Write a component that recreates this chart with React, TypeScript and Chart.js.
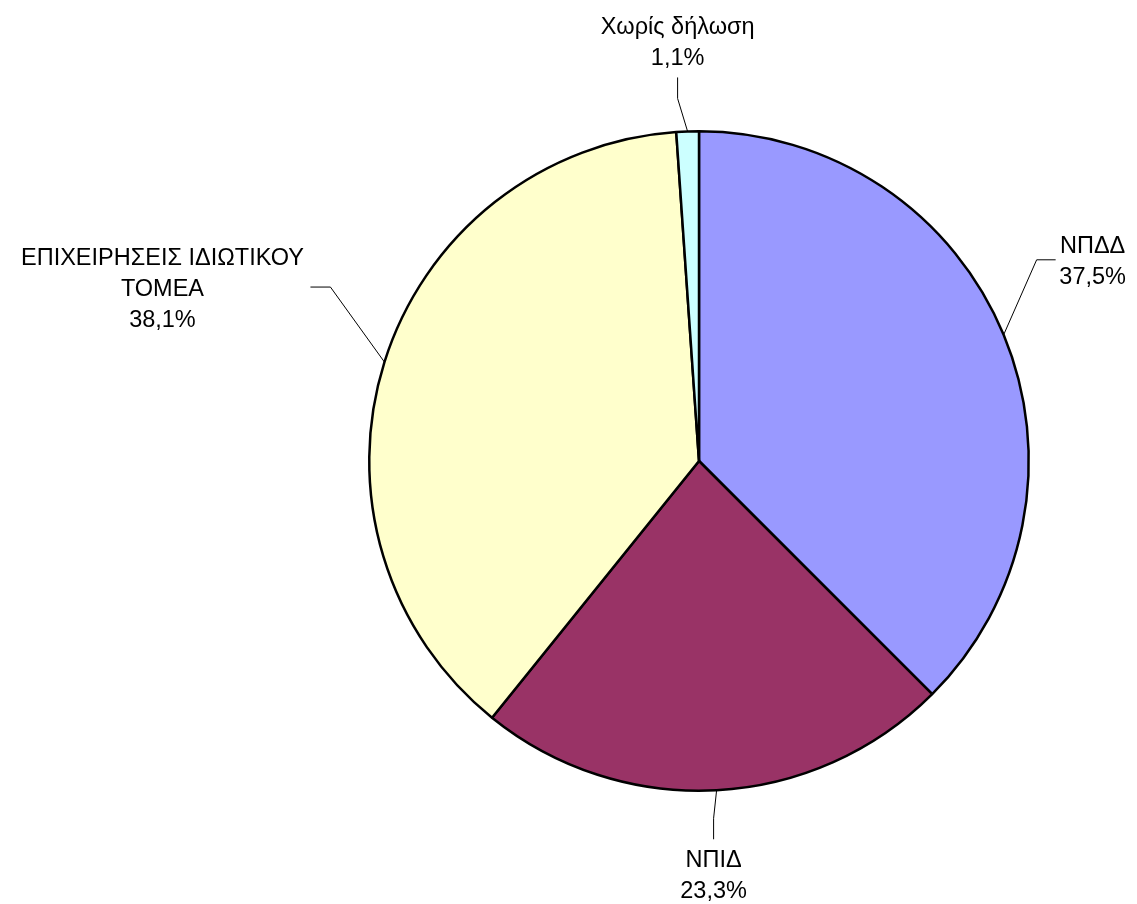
import React, { useEffect, useRef } from "react";
import { Chart, registerables } from "chart.js";

Chart.register(...registerables);

const categories: string[][] = [
  ["ΝΠΔΔ"],
  ["ΝΠΙΔ"],
  ["ΕΠΙΧΕΙΡΗΣΕΙΣ ΙΔΙΩΤΙΚΟΥ", "ΤΟΜΕΑ"],
  ["Χωρίς δήλωση"],
];
const values: number[] = [37.5, 23.3, 38.1, 1.1];
const percentLabels: string[] = ["37,5%", "23,3%", "38,1%", "1,1%"];
const colors: string[] = ["#9999FF", "#993366", "#FFFFCC", "#CCFFFF"];

// leader line geometry per slice: elbow offset from arc edge, tail vector, text offset from tail end
type LabelGeo = { elbow: [number, number]; tail: [number, number]; text: [number, number] };
const labelGeo: LabelGeo[] = [
  { elbow: [33, -75], tail: [19, 0], text: [37, 0] },
  { elbow: [-3, 28], tail: [0, 21], text: [0, 19] },
  { elbow: [-54, -75], tail: [-20, 0], text: [-148, 0] },
  { elbow: [-10, -33], tail: [0, -21], text: [0, -21] },
];

const FONT = '23.5px "Liberation Sans", Arial, Helvetica, sans-serif';
const LINE_H = 31;
const BASE_SHIFT = 2;

const labelPlugin = {
  id: "leaderLabels",
  afterDatasetsDraw(chart: any) {
    const ctx = chart.ctx as CanvasRenderingContext2D;
    const meta = chart.getDatasetMeta(0);
    ctx.save();
    meta.data.forEach((arc: any, i: number) => {
      const p = arc.getProps(["x", "y", "startAngle", "endAngle", "outerRadius"], true);
      const mid = (p.startAngle + p.endAngle) / 2;
      const ax = p.x + Math.cos(mid) * p.outerRadius;
      const ay = p.y + Math.sin(mid) * p.outerRadius;
      const g = labelGeo[i];
      const ex = ax + g.elbow[0];
      const ey = ay + g.elbow[1];
      const tx = ex + g.tail[0];
      const ty = ey + g.tail[1];
      ctx.strokeStyle = "#000";
      ctx.lineWidth = 1;
      ctx.beginPath();
      ctx.moveTo(ax, ay);
      ctx.lineTo(ex, ey);
      ctx.lineTo(tx, ty);
      ctx.stroke();

      const lines = [...categories[i], percentLabels[i]];
      const cx = tx + g.text[0];
      const cy = ty + g.text[1];
      let startY: number;
      if (g.tail[1] > 0) startY = cy;
      else if (g.tail[1] < 0) startY = cy - (lines.length - 1) * LINE_H;
      else startY = cy - ((lines.length - 1) * LINE_H) / 2;
      ctx.fillStyle = "#000";
      ctx.font = FONT;
      ctx.textAlign = "center";
      ctx.textBaseline = "middle";
      lines.forEach((t, k) => ctx.fillText(t, cx, startY + k * LINE_H + BASE_SHIFT));
    });
    ctx.restore();
  },
};

export default function App() {
  const ref = useRef<HTMLCanvasElement>(null);
  useEffect(() => {
    document.body.style.margin = "0";
    const chart = new Chart(ref.current!, {
      type: "pie",
      data: {
        labels: categories.map((c) => c.join(" ")),
        datasets: [
          {
            data: values,
            backgroundColor: colors,
            borderColor: "#000",
            borderWidth: 2.5,
          },
        ],
      },
      options: {
        responsive: true,
        maintainAspectRatio: false,
        animation: false,
        rotation: 0,
        layout: { padding: { left: 368, right: 107, top: 130, bottom: 112 } },
        plugins: { legend: { display: false }, tooltip: { enabled: false } },
      },
      plugins: [labelPlugin],
    });
    return () => chart.destroy();
  }, []);
  return (
    <div style={{ position: "absolute", left: 0, top: 0, width: 1137, height: 904, background: "#fff" }}>
      <canvas ref={ref} />
    </div>
  );
}
